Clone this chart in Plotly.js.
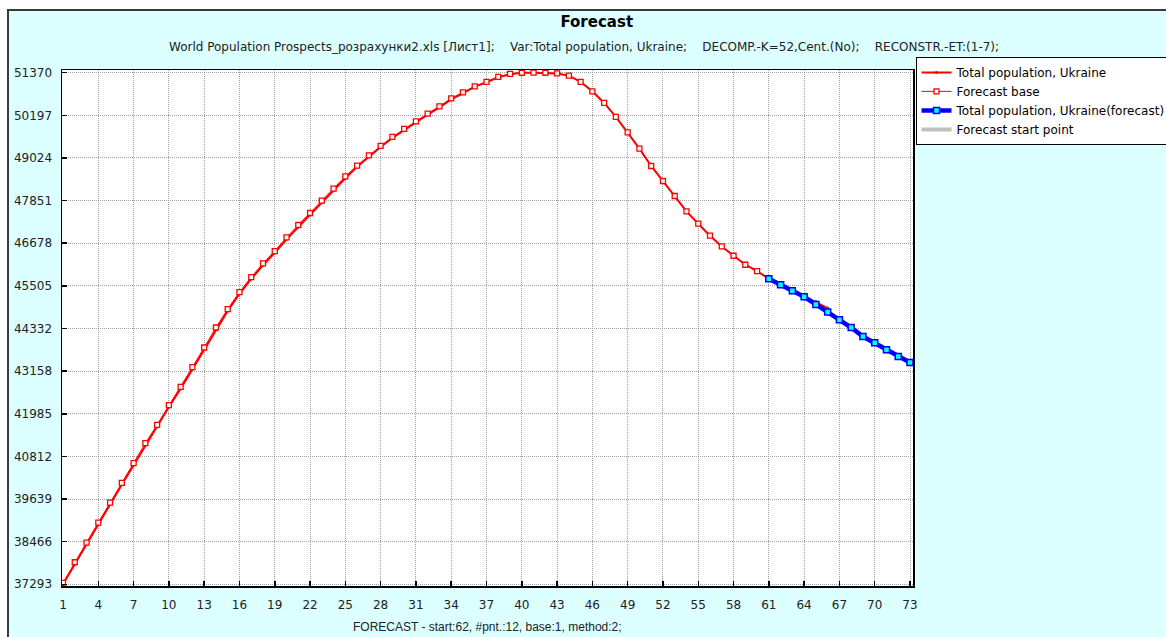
<!DOCTYPE html>
<html>
<head>
<meta charset="utf-8">
<script src="https://cdn.plot.ly/plotly-3.0.1.min.js"></script>
<style>
  html, body { margin: 0; padding: 0; background: #ffffff; width: 1166px; height: 637px; overflow: hidden; }
  #frame { position: absolute; left: 7px; top: 9px; width: 1157px; height: 626px;
           background: #DCFFFF; border-left: 2px solid #3a3a3a; border-top: 2px solid #3a3a3a; }
  #chart { width: 1157px; height: 626px; }
</style>
</head>
<body>
<div id="frame"><div id="chart"></div></div>
<script>
// ---- data ----
const actualPeriods = [1,2,3,4,5,6,7,8,9,10,11,12,13,14,15,16,17,18,19,20,21,22,23,24,25,26,27,28,29,30,31,32,33,34,35,36,37,38,39,40,41,42,43,44,45,46,47,48,49,50,51,52,53,54,55,56,57,58,59,60,61,62,63,64,65,66];
const actualValues = [37293,37849,38389,38939,39490,40032,40575,41126,41630,42172,42676,43219,43758,44309,44816,45284,45697,46071,46413,46787,47129,47459,47798,48128,48467,48782,49065,49324,49572,49792,50002,50214,50415,50635,50800,50986,51107,51244,51327,51365,51370,51365,51350,51290,51117,50858,50538,50153,49729,49280,48803,48390,47977,47553,47215,46884,46589,46333,46086,45912,45700,45540,45380,45232,45075,44893];

const basePeriods = [1,2,3,4,5,6,7,8,9,10,11,12,13,14,15,16,17,18,19,20,21,22,23,24,25,26,27,28,29,30,31,32,33,34,35,36,37,38,39,40,41,42,43,44,45,46,47,48,49,50,51,52,53,54,55,56,57,58,59,60,61];
const baseValues = [37330,37899,38439,38989,39540,40082,40625,41176,41680,42222,42726,43269,43808,44359,44866,45334,45747,46121,46463,46837,47179,47509,47848,48178,48517,48812,49095,49354,49602,49822,50032,50244,50445,50665,50830,50996,51117,51254,51337,51368,51372,51368,51350,51290,51117,50858,50538,50153,49729,49280,48803,48390,47977,47553,47215,46884,46589,46333,46086,45912,45700];

const forecastPeriods = [61,62,63,64,65,66,67,68,69,70,71,72,73];
const forecastValues = [45700,45535,45370,45204,44992,44783,44571,44359,44111,43938,43745,43561,43395];

const yTickVals = [37293,38466,39639,40812,41985,43158,44332,45505,46678,47851,49024,50197,51370];
const yTickText = ['37293','38466','39639','40812','41985','43158','44332','45505','46678','47851','49024','50197','51370'];

const seriesNames = ['Total population, Ukraine','Forecast base','Total population, Ukraine(forecast)','Forecast start point'];
const chartTitle = 'Forecast';
const subTitle = 'World Population Prospects_розрахунки2.xls [Лист1];\u00A0\u00A0\u00A0\u00A0Var:Total population, Ukraine;\u00A0\u00A0\u00A0\u00A0DECOMP.-K=52,Cent.(No);\u00A0\u00A0\u00A0\u00A0RECONSTR.-ET:(1-7);';
const xTitle = 'FORECAST - start:62, #pnt.:12, base:1, method:2;';

// ---- chart ----
const FONT = 'DejaVu Sans, Liberation Sans, Arial, sans-serif';
const ARIAL = 'Liberation Sans, Arial, sans-serif';

const traces = [
  { x: actualPeriods, y: actualValues, name: seriesNames[0], type: 'scatter', mode: 'lines+markers',
    line: { color: '#ff0000', width: 2 }, marker: { color: '#ff0000', size: 3, symbol: 'circle' } },
  { x: basePeriods, y: baseValues, name: seriesNames[1], type: 'scatter', mode: 'lines+markers',
    line: { color: '#ff0000', width: 1 },
    marker: { symbol: 'square', size: 5, color: '#ffffff', line: { color: '#ff0000', width: 1.3 } } },
  { x: forecastPeriods, y: forecastValues, name: seriesNames[2], type: 'scatter', mode: 'lines+markers',
    line: { color: '#0000ff', width: 4.5 },
    marker: { symbol: 'square', size: 6, color: '#00ffff', line: { color: '#0000ff', width: 1.5 } } },
  { x: [null], y: [null], name: seriesNames[3], type: 'scatter', mode: 'lines',
    line: { color: '#c0c0c0', width: 4 } }
];

const layout = {
  width: 1157, height: 626,
  margin: { l: 53, r: 253, t: 59, b: 51, pad: 0 },
  paper_bgcolor: '#DCFFFF',
  plot_bgcolor: '#ffffff',
  font: { family: FONT, size: 12, color: '#222222' },
  showlegend: true,
  title: { text: chartTitle, font: { family: FONT, size: 15, color: '#000000', weight: 'bold' },
           xref: 'container', x: 0.508, xanchor: 'center', yref: 'container', y: 0.9824, yanchor: 'middle' },
  xaxis: {
    range: [0.915, 73.255], tick0: 1, dtick: 3, tickmode: 'linear',
    showgrid: true, gridcolor: '#a0a0a0', griddash: '1px,1px', gridwidth: 1,
    showline: true, linecolor: '#000000', linewidth: 1.5, mirror: true,
    ticks: 'inside', ticklen: 5, tickcolor: '#000000', tickwidth: 1.5,
    zeroline: false, tickfont: { family: FONT, size: 12, color: '#222222' },
    ticklabelstandoff: 7
  },
  yaxis: {
    range: [37246, 51444], tickmode: 'array', tickvals: yTickVals, ticktext: yTickText,
    showgrid: true, gridcolor: '#a0a0a0', griddash: '1px,1px', gridwidth: 1,
    showline: true, linecolor: '#000000', linewidth: 1.5, mirror: true,
    ticks: 'inside', ticklen: 5, tickcolor: '#000000', tickwidth: 1.5,
    zeroline: false, tickfont: { family: FONT, size: 12, color: '#222222' },
    ticklabelstandoff: 6
  },
  legend: {
    xref: 'container', yref: 'container',
    x: 0.7835, xanchor: 'left', y: 0.9267, yanchor: 'top',
    bgcolor: '#ffffff', bordercolor: '#000000', borderwidth: 1,
    font: { family: FONT, size: 12, color: '#000000' },
    tracegroupgap: 0, itemwidth: 30
  },
  annotations: [
    { text: subTitle, xref: 'paper', yref: 'paper', x: 0.6134, y: 1.0446, xanchor: 'center', yanchor: 'middle',
      showarrow: false, font: { family: FONT, size: 12, color: '#222222' } },
    { text: xTitle, xref: 'paper', yref: 'paper', x: 0.5, y: -0.0795, xanchor: 'center', yanchor: 'middle',
      showarrow: false, font: { family: ARIAL, size: 12, color: '#222222' } }
  ]
};

Plotly.newPlot('chart', traces, layout, { displayModeBar: false, staticPlot: true });
</script>
</body>
</html>
